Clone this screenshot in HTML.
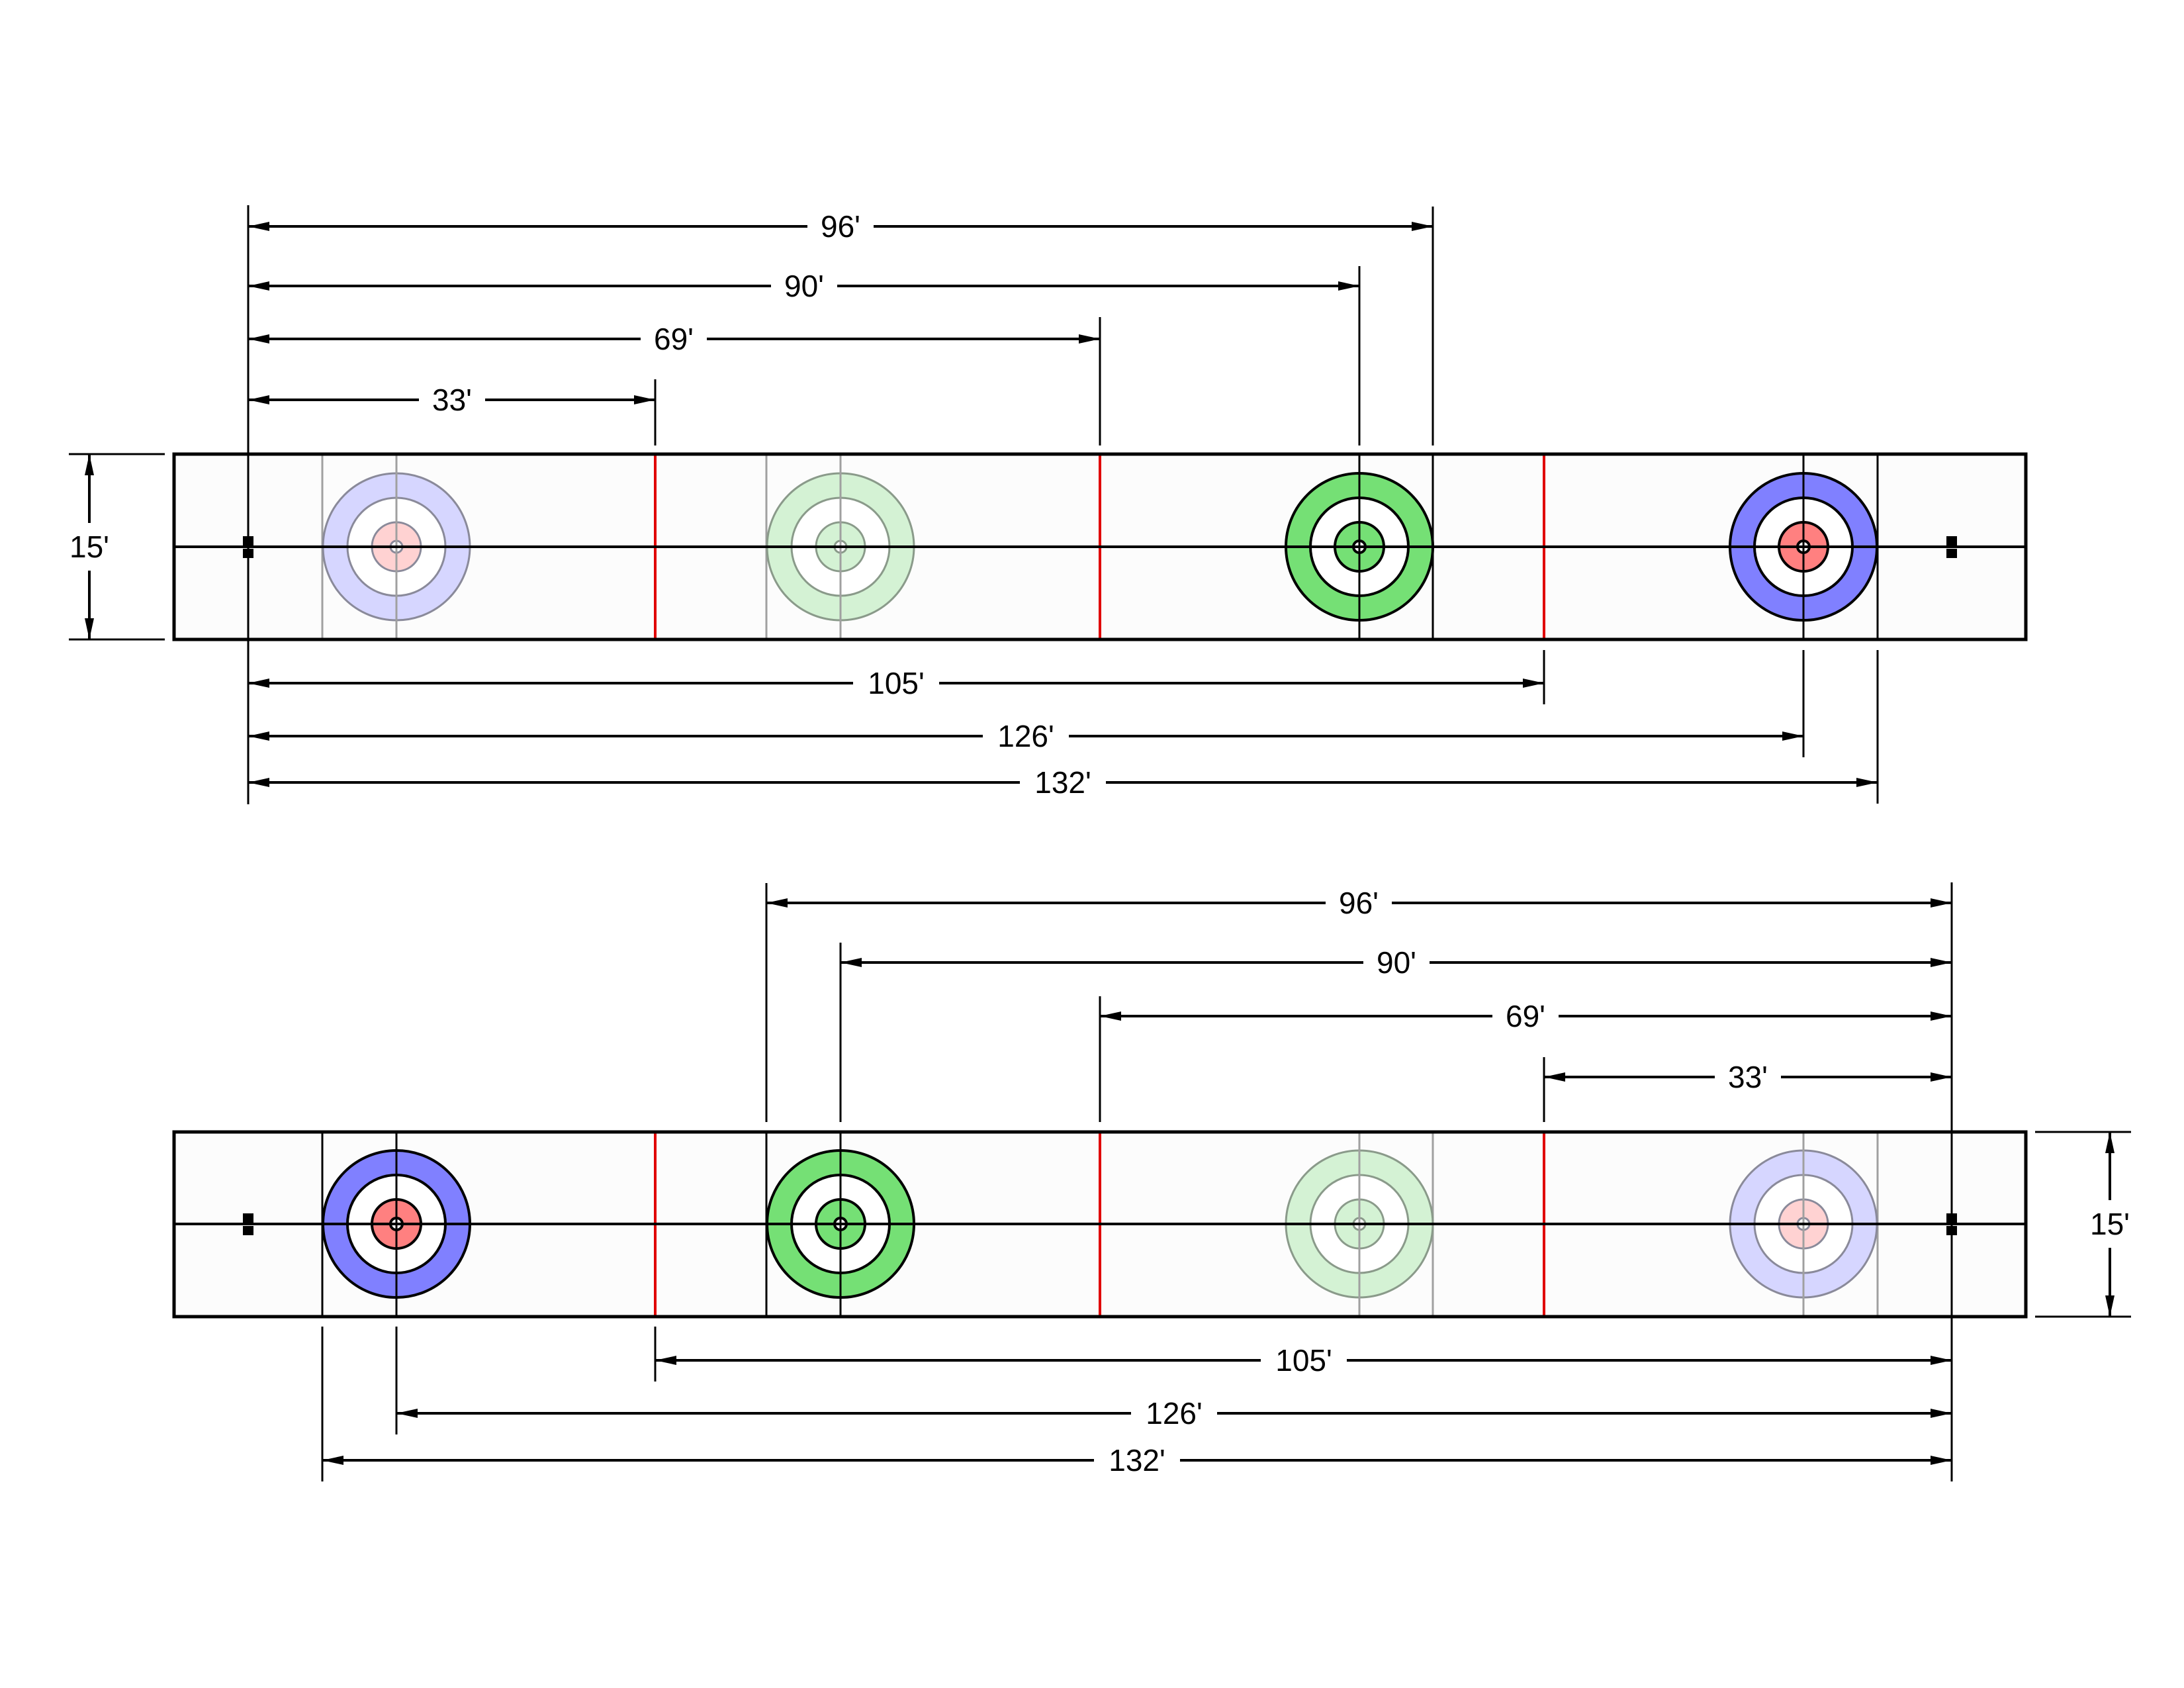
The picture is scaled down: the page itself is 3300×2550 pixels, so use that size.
<!DOCTYPE html>
<html><head><meta charset="utf-8"><style>
html,body{margin:0;padding:0;background:#fff}
svg{display:block}
text{font-family:"Liberation Sans",Arial,sans-serif;font-size:46px;fill:#000}
</style></head><body>
<svg width="3300" height="2550" viewBox="0 0 3300 2550" xmlns="http://www.w3.org/2000/svg">
<defs>
<marker id="a" markerUnits="userSpaceOnUse" markerWidth="34" markerHeight="14" refX="32" refY="7" orient="auto-start-reverse" viewBox="0 0 34 14">
<path d="M0,0 L32,7 L0,14 Z" fill="#000"/></marker>
</defs>
<rect width="3300" height="2550" fill="#fff"/>

<!-- ============ TOP SHEET ============ -->
<rect x="263" y="686" width="2798" height="280" fill="#fcfcfc"/>
<g stroke="#a0a0a0" stroke-width="3">
<line x1="487" y1="686" x2="487" y2="966"/><line x1="599" y1="686" x2="599" y2="966"/>
<line x1="1158" y1="686" x2="1158" y2="966"/><line x1="1270" y1="686" x2="1270" y2="966"/>
</g>
<g stroke="#8a8a9a" stroke-width="3">
<circle cx="599" cy="826" r="111" fill="#d6d6ff"/><circle cx="599" cy="826" r="74" fill="#fff"/>
<circle cx="599" cy="826" r="37" fill="#ffd2d2"/><circle cx="599" cy="826" r="9" fill="#fff"/>
</g>
<g stroke="#8a9a8a" stroke-width="3">
<circle cx="1270" cy="826" r="111" fill="#d4f2d4"/><circle cx="1270" cy="826" r="74" fill="#fff"/>
<circle cx="1270" cy="826" r="37" fill="#d4f2d4"/><circle cx="1270" cy="826" r="9" fill="#fff"/>
</g>
<line x1="599" y1="686" x2="599" y2="966" stroke="#a0a0a0" stroke-width="3"/>
<line x1="1270" y1="686" x2="1270" y2="966" stroke="#a0a0a0" stroke-width="3"/>
<g stroke="#000" stroke-width="4">
<circle cx="2054" cy="826" r="111" fill="#75e075"/><circle cx="2054" cy="826" r="74" fill="#fff"/>
<circle cx="2054" cy="826" r="37" fill="#75e075"/><circle cx="2054" cy="826" r="9" fill="#fff"/>
<circle cx="2725" cy="826" r="111" fill="#8080ff"/><circle cx="2725" cy="826" r="74" fill="#fff"/>
<circle cx="2725" cy="826" r="37" fill="#ff8080"/><circle cx="2725" cy="826" r="9" fill="#fff"/>
</g>
<g stroke="#000" stroke-width="3">
<line x1="2054" y1="686" x2="2054" y2="966"/><line x1="2165" y1="686" x2="2165" y2="966"/>
<line x1="2725" y1="686" x2="2725" y2="966"/><line x1="2837" y1="686" x2="2837" y2="966"/>
</g>
<g stroke="#e00000" stroke-width="4">
<line x1="990" y1="686" x2="990" y2="966"/><line x1="1662" y1="686" x2="1662" y2="966"/><line x1="2333" y1="686" x2="2333" y2="966"/>
</g>
<line x1="263" y1="826" x2="3061" y2="826" stroke="#000" stroke-width="4"/>
<rect x="263" y="686" width="2798" height="280" fill="none" stroke="#000" stroke-width="5"/>
<g fill="#000">
<rect x="367" y="810" width="16" height="14"/><rect x="367" y="829" width="16" height="14"/>
<rect x="2941" y="810" width="16" height="14"/><rect x="2941" y="829" width="16" height="14"/>
</g>
<g stroke="#000" stroke-width="3">
<line x1="375" y1="310" x2="375" y2="1215"/>
<line x1="990" y1="573" x2="990" y2="673"/>
<line x1="1662" y1="479" x2="1662" y2="673"/>
<line x1="2054" y1="402" x2="2054" y2="673"/>
<line x1="2165" y1="312" x2="2165" y2="673"/>
<line x1="2333" y1="982" x2="2333" y2="1064"/>
<line x1="2725" y1="982" x2="2725" y2="1144"/>
<line x1="2837" y1="982" x2="2837" y2="1214"/>
<line x1="104" y1="686" x2="249" y2="686"/>
<line x1="104" y1="966" x2="249" y2="966"/>
</g>
<g stroke="#000" stroke-width="4" marker-start="url(#a)" marker-end="url(#a)">
<line x1="375" y1="342" x2="2165" y2="342"/>
<line x1="375" y1="432" x2="2054" y2="432"/>
<line x1="375" y1="512" x2="1662" y2="512"/>
<line x1="375" y1="604" x2="990" y2="604"/>
<line x1="375" y1="1032" x2="2333" y2="1032"/>
<line x1="375" y1="1112" x2="2725" y2="1112"/>
<line x1="375" y1="1182" x2="2837" y2="1182"/>
<line x1="135" y1="686" x2="135" y2="966"/>
</g>
<g fill="#fff">
<rect x="1220" y="318" width="100" height="48"/>
<rect x="1165" y="408" width="100" height="48"/>
<rect x="968" y="488" width="100" height="48"/>
<rect x="633" y="580" width="100" height="48"/>
<rect x="1289" y="1008" width="130" height="48"/>
<rect x="1485" y="1088" width="130" height="48"/>
<rect x="1541" y="1158" width="130" height="48"/>
<rect x="105" y="790" width="60" height="72"/>
</g>
<g text-anchor="middle">
<text x="1270" y="358">96'</text>
<text x="1215" y="448">90'</text>
<text x="1018" y="528">69'</text>
<text x="683" y="620">33'</text>
<text x="1354" y="1048">105'</text>
<text x="1550" y="1128">126'</text>
<text x="1606" y="1198">132'</text>
<text x="135" y="842">15'</text>
</g>

<!-- ============ BOTTOM SHEET ============ -->
<rect x="263" y="1710" width="2798" height="279" fill="#fcfcfc"/>
<g stroke="#a0a0a0" stroke-width="3">
<line x1="2054" y1="1710" x2="2054" y2="1989"/><line x1="2165" y1="1710" x2="2165" y2="1989"/>
<line x1="2725" y1="1710" x2="2725" y2="1989"/><line x1="2837" y1="1710" x2="2837" y2="1989"/>
</g>
<g stroke="#8a9a8a" stroke-width="3">
<circle cx="2054" cy="1849" r="111" fill="#d4f2d4"/><circle cx="2054" cy="1849" r="74" fill="#fff"/>
<circle cx="2054" cy="1849" r="37" fill="#d4f2d4"/><circle cx="2054" cy="1849" r="9" fill="#fff"/>
</g>
<g stroke="#8a8a9a" stroke-width="3">
<circle cx="2725" cy="1849" r="111" fill="#d6d6ff"/><circle cx="2725" cy="1849" r="74" fill="#fff"/>
<circle cx="2725" cy="1849" r="37" fill="#ffd2d2"/><circle cx="2725" cy="1849" r="9" fill="#fff"/>
</g>
<line x1="2054" y1="1710" x2="2054" y2="1989" stroke="#a0a0a0" stroke-width="3"/>
<line x1="2725" y1="1710" x2="2725" y2="1989" stroke="#a0a0a0" stroke-width="3"/>
<g stroke="#000" stroke-width="4">
<circle cx="599" cy="1849" r="111" fill="#8080ff"/><circle cx="599" cy="1849" r="74" fill="#fff"/>
<circle cx="599" cy="1849" r="37" fill="#ff8080"/><circle cx="599" cy="1849" r="9" fill="#fff"/>
<circle cx="1270" cy="1849" r="111" fill="#75e075"/><circle cx="1270" cy="1849" r="74" fill="#fff"/>
<circle cx="1270" cy="1849" r="37" fill="#75e075"/><circle cx="1270" cy="1849" r="9" fill="#fff"/>
</g>
<g stroke="#000" stroke-width="3">
<line x1="487" y1="1710" x2="487" y2="1989"/><line x1="599" y1="1710" x2="599" y2="1989"/>
<line x1="1158" y1="1710" x2="1158" y2="1989"/><line x1="1270" y1="1710" x2="1270" y2="1989"/>
</g>
<g stroke="#e00000" stroke-width="4">
<line x1="990" y1="1710" x2="990" y2="1989"/><line x1="1662" y1="1710" x2="1662" y2="1989"/><line x1="2333" y1="1710" x2="2333" y2="1989"/>
</g>
<line x1="263" y1="1849" x2="3061" y2="1849" stroke="#000" stroke-width="4"/>
<rect x="263" y="1710" width="2798" height="279" fill="none" stroke="#000" stroke-width="5"/>
<g fill="#000">
<rect x="367" y="1833" width="16" height="14"/><rect x="367" y="1852" width="16" height="14"/>
<rect x="2941" y="1833" width="16" height="14"/><rect x="2941" y="1852" width="16" height="14"/>
</g>
<g stroke="#000" stroke-width="3">
<line x1="2949" y1="1333" x2="2949" y2="2238"/>
<line x1="1158" y1="1334" x2="1158" y2="1695"/>
<line x1="1270" y1="1424" x2="1270" y2="1695"/>
<line x1="1662" y1="1505" x2="1662" y2="1695"/>
<line x1="2333" y1="1597" x2="2333" y2="1695"/>
<line x1="990" y1="2004" x2="990" y2="2087"/>
<line x1="599" y1="2004" x2="599" y2="2167"/>
<line x1="487" y1="2004" x2="487" y2="2238"/>
<line x1="3075" y1="1710" x2="3220" y2="1710"/>
<line x1="3075" y1="1989" x2="3220" y2="1989"/>
</g>
<g stroke="#000" stroke-width="4" marker-start="url(#a)" marker-end="url(#a)">
<line x1="1158" y1="1364" x2="2949" y2="1364"/>
<line x1="1270" y1="1454" x2="2949" y2="1454"/>
<line x1="1662" y1="1535" x2="2949" y2="1535"/>
<line x1="2333" y1="1627" x2="2949" y2="1627"/>
<line x1="990" y1="2055" x2="2949" y2="2055"/>
<line x1="599" y1="2135" x2="2949" y2="2135"/>
<line x1="487" y1="2206" x2="2949" y2="2206"/>
<line x1="3188" y1="1710" x2="3188" y2="1989"/>
</g>
<g fill="#fff">
<rect x="2003" y="1340" width="100" height="48"/>
<rect x="2060" y="1430" width="100" height="48"/>
<rect x="2255" y="1511" width="100" height="48"/>
<rect x="2591" y="1603" width="100" height="48"/>
<rect x="1905" y="2031" width="130" height="48"/>
<rect x="1709" y="2111" width="130" height="48"/>
<rect x="1653" y="2182" width="130" height="48"/>
<rect x="3158" y="1813" width="60" height="72"/>
</g>
<g text-anchor="middle">
<text x="2053" y="1380">96'</text>
<text x="2110" y="1470">90'</text>
<text x="2305" y="1551">69'</text>
<text x="2641" y="1643">33'</text>
<text x="1970" y="2071">105'</text>
<text x="1774" y="2151">126'</text>
<text x="1718" y="2222">132'</text>
<text x="3188" y="1865">15'</text>
</g>
</svg>
</body></html>
